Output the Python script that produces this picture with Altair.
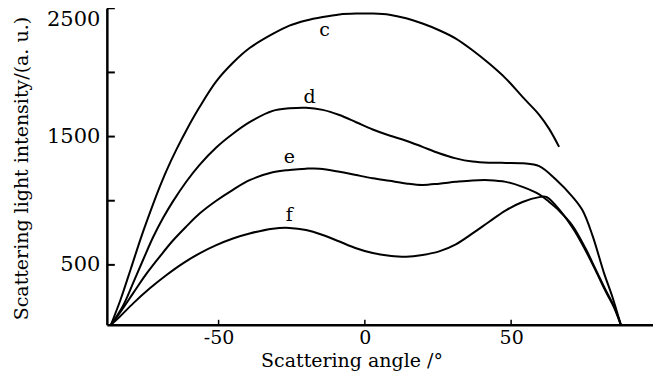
import altair as alt
import pandas as pd

# ---- data ----
c_x = [-86.8, -83.5, -80.0, -76.4, -73.5, -70.7, -67.8, -64.4, -61.0, -56.5, -50.8, -45.1, -39.4,
       -31.5, -25.8, -20.1, -14.4, -8.7, -3.0, 2.7, 8.4, 14.1, 19.7, 25.4, 31.1, 36.8, 42.5,
       48.2, 53.9, 59.6, 63.0, 66.4]
c_y = [33, 230, 470, 720, 905, 1075, 1235, 1400, 1550, 1730, 1930, 2075, 2190,
       2300, 2365, 2405, 2432, 2452, 2459, 2459, 2450, 2422, 2381, 2329, 2264, 2173, 2069,
       1952, 1809, 1670, 1560, 1420]

d_x = [-86.8, -82.7, -79.2, -75.8, -72.4, -69.0, -65.6, -61.0, -56.5, -50.8, -45.1, -39.4,
       -31.5, -25.8, -20.1, -14.4, -8.7, -3.0, 2.7, 8.4, 14.1, 19.7, 25.4, 31.1, 36.8, 42.5,
       48.2, 53.9, 59.6, 65.3, 71.0, 74.4, 77.8, 81.7, 84.6, 87.5]
d_y = [33, 180, 360, 540, 715, 865, 995, 1150, 1280, 1415, 1522, 1612,
       1700, 1720, 1725, 1708, 1668, 1612, 1555, 1508, 1468, 1420, 1370, 1330, 1305, 1296,
       1295, 1292, 1270, 1165, 1030, 925, 730, 440, 252, 33]

e_x = [-86.8, -83.8, -79.2, -74.7, -70.1, -65.6, -61.0, -56.5, -50.8, -45.1, -39.4,
       -31.5, -25.8, -20.1, -15.5, -8.7, -3.0, 2.7, 8.4, 14.1, 19.7, 25.4, 31.1, 36.8, 42.5,
       48.2, 53.9, 59.6, 63.0, 66.5, 71.0, 75.5, 78.9, 82.3, 85.2, 87.5]
e_y = [33, 125, 280, 430, 565, 690, 800, 900, 1000, 1085, 1160,
       1222, 1240, 1250, 1250, 1226, 1200, 1175, 1155, 1135, 1123, 1133, 1147, 1158, 1160,
       1147, 1108, 1050, 990, 920, 805, 625, 465, 305, 175, 33]

f_x = [-86.8, -83.8, -79.2, -73.5, -67.8, -62.2, -56.5, -50.8, -45.1, -39.4, -31.5, -25.8,
       -20.1, -14.4, -8.7, -3.0, 2.7, 8.4, 14.1, 19.7, 25.4, 31.1, 36.8, 42.5, 48.2, 53.9,
       59.6, 62.0, 65.0, 71.0, 75.5, 78.9, 82.3, 85.2, 87.5]
f_y = [33, 96, 200, 317, 421, 512, 590, 654, 706, 745, 782, 788,
       772, 733, 682, 630, 592, 572, 564, 577, 605, 660, 745, 836, 925, 990,
       1028, 1030, 970, 790, 610, 455, 295, 168, 33]

label_names = ["c", "d", "e", "f"]
label_x = [-13.8, -18.9, -25.8, -25.8]
label_y = [2329, 1809, 1342, 887]

y_tick_values = [500, 1000, 1500, 2000, 2500]
y_label_values = [500, 1500, 2500]
x_tick_values = [-50, 0, 50]

X_DOMAIN = [-88.2, 98.5]
Y_DOMAIN = [33, 2500]

rows = []
for name, xs, ys in [("c", c_x, c_y), ("d", d_x, d_y), ("e", e_x, e_y), ("f", f_x, f_y)]:
    for i, (a, b) in enumerate(zip(xs, ys)):
        rows.append({"series": name, "angle": a, "intensity": b, "idx": i})
df = pd.DataFrame(rows)
labels_df = pd.DataFrame({"name": label_names, "angle": label_x, "intensity": label_y})
yt_df = pd.DataFrame({"v": y_tick_values})
xt_df = pd.DataFrame({"v": x_tick_values})

FONT = "DejaVu Serif"
W, H = 547, 317

xscale = alt.Scale(domain=X_DOMAIN, nice=False, zero=False)
yscale = alt.Scale(domain=Y_DOMAIN, nice=False, zero=False)

x_axis = alt.Axis(values=x_tick_values, ticks=False, grid=False, labelPadding=4,
                  labelExpr="'' + datum.value",
                  labelFontSize=19, labelFont=FONT, labelColor="black",
                  domainColor="black", domainWidth=2.5,
                  title="Scattering angle /°", titleFont=FONT, titleFontSize=19,
                  titleFontWeight="normal", titleColor="black",
                  titleX=245, titleY=36, titleAlign="center", titleBaseline="middle")
y_axis = alt.Axis(values=y_label_values, ticks=False, grid=False, labelPadding=7,
                  labelExpr="'' + datum.value", labelFlush=True,
                  labelFontSize=21, labelFont=FONT, labelColor="black",
                  domainColor="black", domainWidth=2.5,
                  title="Scattering light intensity/(a. u.)", titleFont=FONT, titleFontSize=19,
                  titleFontWeight="normal", titleColor="black", titleAngle=-90,
                  titleX=-85, titleY=312, titleAlign="left", titleBaseline="middle")

lines = alt.Chart(df).mark_line(color="black", strokeWidth=2, interpolate="catmull-rom").encode(
    x=alt.X("angle:Q", scale=xscale, axis=x_axis),
    y=alt.Y("intensity:Q", scale=yscale, axis=y_axis),
    detail="series:N",
    order="idx:Q",
)

texts = alt.Chart(labels_df).mark_text(font=FONT, fontSize=19, color="black",
                                        baseline="middle", align="center").encode(
    x=alt.X("angle:Q", scale=xscale),
    y=alt.Y("intensity:Q", scale=yscale),
    text="name:N",
)

yticks = alt.Chart(yt_df).mark_rule(color="black", strokeWidth=2).encode(
    y=alt.Y("v:Q", scale=yscale),
    x=alt.value(0),
    x2=alt.value(8),
)

xticks = alt.Chart(xt_df).mark_rule(color="black", strokeWidth=1.5).encode(
    x=alt.X("v:Q", scale=xscale),
    y=alt.value(H),
    y2=alt.value(H - 5),
)

chart = alt.layer(lines, texts, yticks, xticks).properties(
    width=W, height=H,
    autosize=alt.AutoSizeParams(type="none"),
    padding={"left": 99, "top": 0, "right": 0, "bottom": 47},
    background="white",
).configure_view(stroke=None)

chart.save("out.html", embed_options={"renderer": "svg", "actions": False})
